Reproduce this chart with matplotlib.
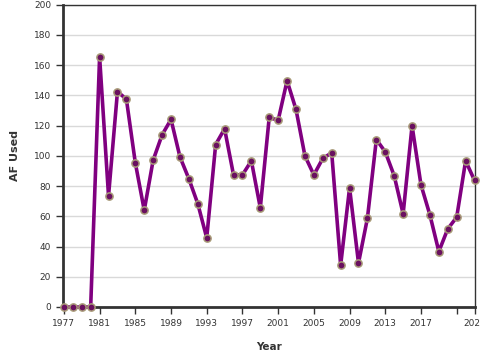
import matplotlib
matplotlib.use('Agg')
import matplotlib.pyplot as plt

# ── data ────────────────────────────────────────────────────
years = list(range(1977, 2024))
af_used = [0, 0, 0, 0, 165.5, 73.5, 142.5, 137.5, 95.4, 64.0,
           97.2, 113.9, 124.1, 99.3, 84.8, 68.3, 45.7, 107.5, 117.9, 87.4,
           87.4, 96.7, 65.6, 125.4, 123.5, 149.7, 130.7, 100.0, 87.4, 98.3,
           102.0, 27.6, 78.8, 29.1, 58.7, 110.8, 102.6, 86.8, 61.6, 119.9,
           80.8, 60.9, 36.7, 51.7, 59.4, 96.7, 83.7]
xticks = list(range(1977, 2022, 4)) + [2023]
xtick_labels = [str(t) if t != 2021 else '' for t in xticks]
yticks = list(range(0, 201, 20))

fig = plt.figure(figsize=(4.8, 3.6), dpi=100)
ax = fig.add_axes([63 / 480, 1 - 307 / 360, 412 / 480, 302.3 / 360])

ax.plot(years, af_used, color='#800080', lw=2.6, zorder=3,
        marker='o', ms=5.2, mfc='#6a1060', mec='#a89a78', mew=1.1,
        clip_on=False)

ax.set_xlim(1976.9, 2023.05)
ax.set_ylim(0, 200)
ax.set_xticks(xticks)
ax.set_xticklabels(xtick_labels)
ax.set_yticks(yticks)
ax.yaxis.grid(True, color='#d9d9d9', lw=1)
ax.set_axisbelow(True)

for side in ['left', 'bottom']:
    ax.spines[side].set_linewidth(2)
    ax.spines[side].set_color('#333333')
for side in ['top', 'right']:
    ax.spines[side].set_linewidth(1)
    ax.spines[side].set_color('#333333')

ax.tick_params(labelsize=6.5, colors='#333333', length=5, width=1)
ax.set_xlabel('Year', fontsize=7.5, fontweight='bold', color='#333333', labelpad=10)
ax.set_ylabel('AF Used', fontsize=8, fontweight='bold', color='#333333', labelpad=10)

plt.savefig('out.png', dpi=100)
